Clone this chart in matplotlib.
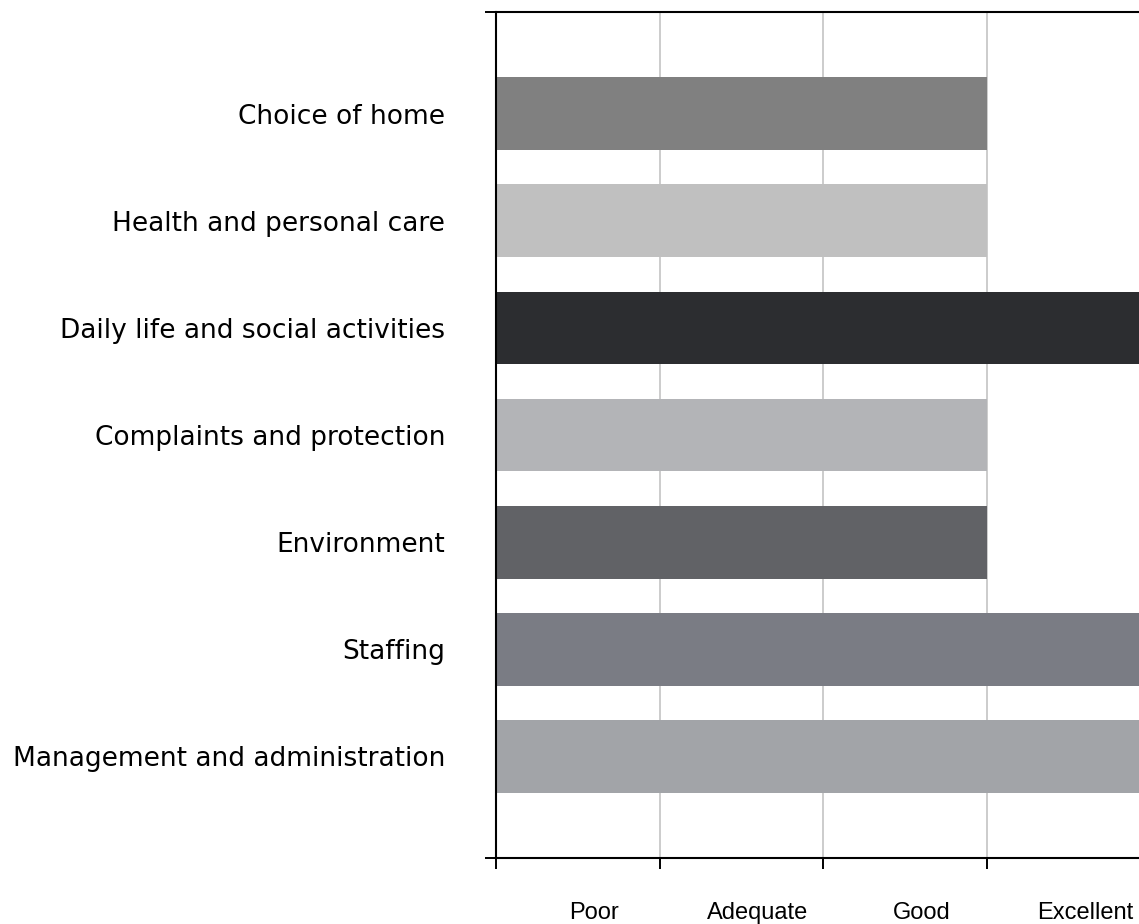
import numpy as np
import matplotlib
matplotlib.use('Agg')
import matplotlib.pyplot as plt

#-----
# data
categories = ['Choice of home', 'Health and personal care', 'Daily life and social activities',
              'Complaints and protection', 'Environment', 'Staffing', 'Management and administration']
ratings = [3, 3, 4, 3, 3, 4, 4]
colors = ['#808080', '#c0c0c0', '#2c2d30', '#b3b4b7', '#616266', '#7a7c84', '#a2a4a8']
rating_labels = ['Poor', 'Adequate', 'Good', 'Excellent']
#-----

fig = plt.figure(figsize=(11.39, 9.24), dpi=100)
ax = fig.add_axes([0.4355, 0.0714, 0.5749, 0.9156])

y = np.arange(len(categories))
ax.barh(y, ratings, height=0.68, color=colors, zorder=2)

ax.set_ylim(6.95, -0.95)
ax.set_xlim(0, 4)

# y axis: category names, small ticks only at the ends
ax.set_yticks(y)
ax.set_yticklabels(categories, fontsize=19, family='DejaVu Sans')
ax.tick_params(axis='y', which='major', length=0, pad=36.5)
ax.set_yticks([-0.95, 6.95], minor=True)
ax.tick_params(axis='y', which='minor', length=8, width=1.4, direction='out')

# x axis: ticks at whole ratings, word labels in between
ax.set_xticks([0, 1, 2, 3, 4])
ax.set_xticklabels([])
ax.tick_params(axis='x', which='major', length=8, width=1.4, direction='out')
ax.set_xticks(np.arange(len(rating_labels)) + 0.6, minor=True)
ax.set_xticklabels(rating_labels, minor=True, fontsize=17, family='Liberation Sans')
ax.tick_params(axis='x', which='minor', length=0, pad=32)

ax.grid(axis='x', which='major', color='#bfbfbf', linewidth=1.1, zorder=0)
ax.set_axisbelow(True)

for s in ['left', 'top', 'bottom']:
    ax.spines[s].set_linewidth(1.5)
    ax.spines[s].set_color('black')
ax.spines['right'].set_visible(False)

fig.savefig('out.png', dpi=100)
